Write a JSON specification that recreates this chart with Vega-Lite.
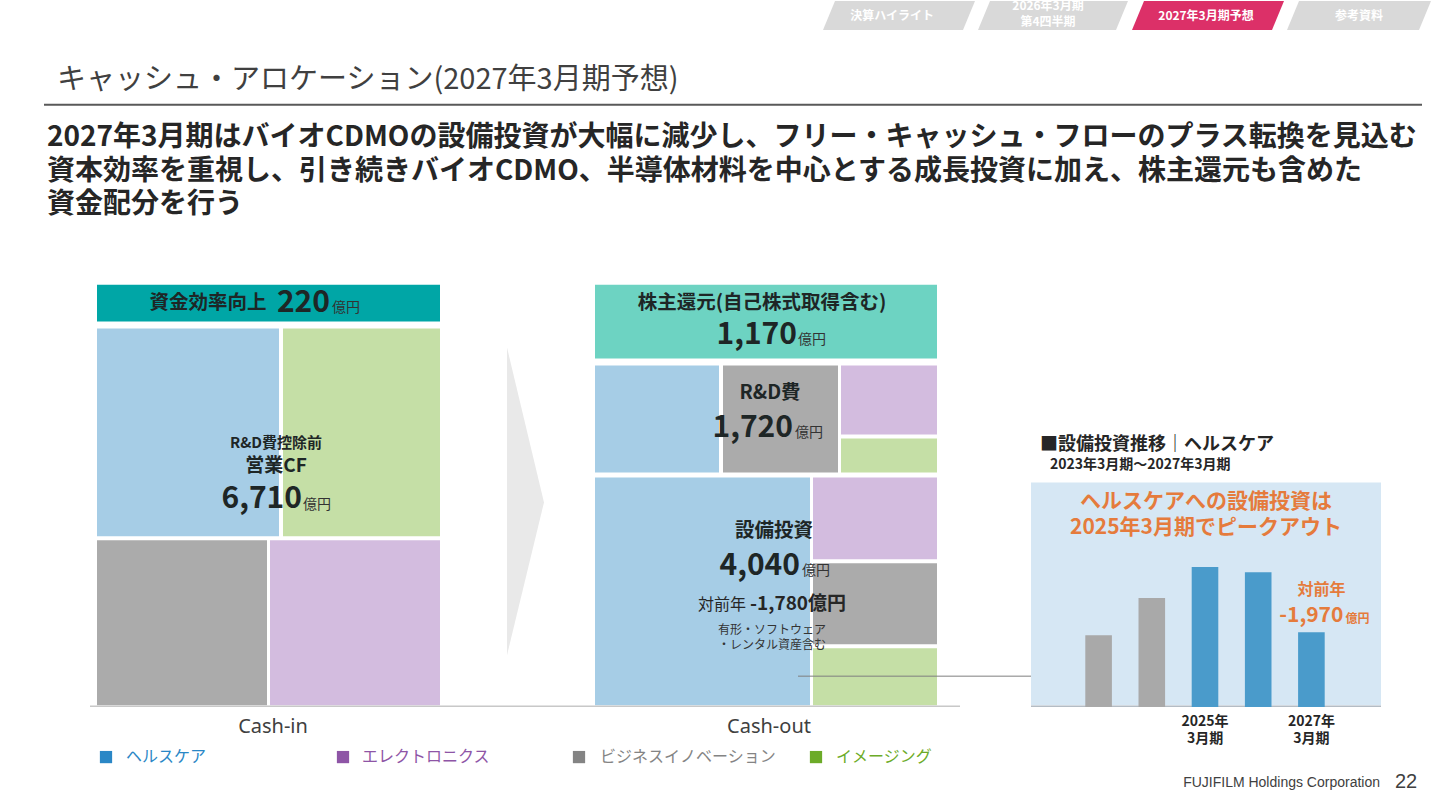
{
  "$schema": "https://vega.github.io/schema/vega-lite/v6.json",
  "width": 1440,
  "height": 810,
  "autosize": {"type": "fit", "contains": "padding"},
  "padding": 0,
  "background": "#ffffff",
  "config": {"view": {"stroke": null}, "font": "Noto Sans CJK JP"},
  "datasets": {
    "tabs": [
      {"tab": "決算ハイライト", "y": 0, "x": 835, "x2": 975},
      {"tab": "決算ハイライト", "y": 29, "x": 823, "x2": 963},
      {"tab": "2026年3月期 第4四半期", "y": 0, "x": 990, "x2": 1128},
      {"tab": "2026年3月期 第4四半期", "y": 29, "x": 978, "x2": 1116},
      {"tab": "2027年3月期予想", "y": 0, "x": 1144, "x2": 1284},
      {"tab": "2027年3月期予想", "y": 29, "x": 1132, "x2": 1272},
      {"tab": "参考資料", "y": 0, "x": 1299, "x2": 1431},
      {"tab": "参考資料", "y": 29, "x": 1287, "x2": 1419}
    ],
    "tiles": [
      {"blk": "Cash-in", "seg": "資金効率向上", "x": 97, "x2": 440, "y": 284, "y2": 321},
      {"blk": "Cash-in", "seg": "ヘルスケア", "x": 97, "x2": 279, "y": 328, "y2": 536},
      {"blk": "Cash-in", "seg": "イメージング", "x": 283, "x2": 440, "y": 328, "y2": 536},
      {"blk": "Cash-in", "seg": "ビジネスイノベーション", "x": 97, "x2": 267, "y": 540, "y2": 705},
      {"blk": "Cash-in", "seg": "エレクトロニクス", "x": 270, "x2": 440, "y": 540, "y2": 705},
      {"blk": "Cash-out", "seg": "株主還元", "x": 595, "x2": 937, "y": 284, "y2": 358},
      {"blk": "Cash-out", "seg": "ヘルスケア", "x": 595, "x2": 719, "y": 365, "y2": 472},
      {"blk": "Cash-out", "seg": "ビジネスイノベーション", "x": 723, "x2": 838, "y": 365, "y2": 472},
      {"blk": "Cash-out", "seg": "エレクトロニクス", "x": 841, "x2": 937, "y": 365, "y2": 434},
      {"blk": "Cash-out", "seg": "イメージング", "x": 841, "x2": 937, "y": 438, "y2": 472},
      {"blk": "Cash-out", "seg": "ヘルスケア", "x": 595, "x2": 810, "y": 477, "y2": 705},
      {"blk": "Cash-out", "seg": "エレクトロニクス", "x": 813, "x2": 937, "y": 477, "y2": 559},
      {"blk": "Cash-out", "seg": "ビジネスイノベーション", "x": 813, "x2": 937, "y": 563, "y2": 644},
      {"blk": "Cash-out", "seg": "イメージング", "x": 813, "x2": 937, "y": 648, "y2": 705}
    ],
    "legend": [
      {"seg": "ヘルスケア", "x": 106, "tx": 126, "y": 757},
      {"seg": "エレクトロニクス", "x": 343, "tx": 362, "y": 757},
      {"seg": "ビジネスイノベーション", "x": 579, "tx": 600, "y": 757},
      {"seg": "イメージング", "x": 816, "tx": 836, "y": 757}
    ],
    "capex": [
      {"fy": 2023, "capex": 2360, "label": ""},
      {"fy": 2024, "capex": 3580, "label": ""},
      {"fy": 2025, "capex": 4600, "label": "2025年\n3月期"},
      {"fy": 2026, "capex": 4430, "label": ""},
      {"fy": 2027, "capex": 2460, "label": "2027年\n3月期"}
    ]
  },
  "layer": [
    {
      "encoding": {
        "x": {"field": "x", "type": "quantitative", "scale": {"domain": [0, 1440], "nice": false, "zero": false}, "axis": null},
        "y": {"field": "y", "type": "quantitative", "scale": {"domain": [0, 810], "nice": false, "zero": false, "reverse": true}, "axis": null}
      },
      "layer": [
        {
          "data": {"name": "tabs"},
          "mark": {"type": "area", "orient": "horizontal"},
          "encoding": {
            "x2": {"field": "x2"},
            "detail": {"field": "tab"},
            "fill": {"condition": {"test": "datum.tab === '2027年3月期予想'", "value": "#dc3068"}, "value": "#d9d9d9"}
          }
        },
        {
          "data": {"values": [
            {"x": 892, "y": 15, "t": "決算ハイライト"},
            {"x": 1048, "y": 5, "t": "2026年3月期"},
            {"x": 1048, "y": 21, "t": "第4四半期"},
            {"x": 1206, "y": 15, "t": "2027年3月期予想"},
            {"x": 1359, "y": 15, "t": "参考資料"}
          ]},
          "mark": {"type": "text", "align": "center", "baseline": "middle", "fontSize": 12, "fontWeight": "bold", "color": "#ffffff"},
          "encoding": {"text": {"field": "t"}}
        },
        {
          "data": {"values": [{"x": 57, "y": 79, "t": "キャッシュ・アロケーション(2027年3月期予想)"}]},
          "mark": {"type": "text", "align": "left", "baseline": "middle", "fontSize": 29, "color": "#404040"},
          "encoding": {"text": {"field": "t"}}
        },
        {
          "data": {"values": [{"x": 44, "x2": 1422, "y": 104}]},
          "mark": {"type": "rule", "color": "#595959", "strokeWidth": 2},
          "encoding": {"x2": {"field": "x2"}}
        },
        {
          "data": {"values": [
            {"x": 47, "y": 137, "t": "2027年3月期はバイオCDMOの設備投資が大幅に減少し、フリー・キャッシュ・フローのプラス転換を見込む"},
            {"x": 47, "y": 171, "t": "資本効率を重視し、引き続きバイオCDMO、半導体材料を中心とする成長投資に加え、株主還元も含めた"},
            {"x": 47, "y": 204, "t": "資金配分を行う"}
          ]},
          "mark": {"type": "text", "align": "left", "baseline": "middle", "fontSize": 28, "fontWeight": "bold", "color": "#262626"},
          "encoding": {"text": {"field": "t"}}
        },
        {
          "data": {"values": [
            {"y": 347, "x": 507, "x2": 507},
            {"y": 502, "x": 507, "x2": 544},
            {"y": 655, "x": 507, "x2": 507}
          ]},
          "mark": {"type": "area", "orient": "horizontal", "color": "#e9e9e9"},
          "encoding": {"x2": {"field": "x2"}}
        },
        {
          "data": {"name": "tiles"},
          "mark": {"type": "rect"},
          "encoding": {
            "x2": {"field": "x2"},
            "y2": {"field": "y2"},
            "fill": {
              "field": "seg", "type": "nominal", "legend": null,
              "scale": {
                "domain": ["ヘルスケア", "エレクトロニクス", "ビジネスイノベーション", "イメージング", "資金効率向上", "株主還元"],
                "range": ["#a6cde6", "#d3bcdf", "#ababab", "#c5dfa6", "#00a6a6", "#6dd3c2"]
              }
            }
          }
        },
        {
          "data": {"values": [{"x": 90, "x2": 960, "y": 706}]},
          "mark": {"type": "rule", "color": "#c8c8c8", "strokeWidth": 1.5},
          "encoding": {"x2": {"field": "x2"}}
        },
        {
          "data": {"values": [{"x": 1031, "x2": 1381, "y": 482, "y2": 705}]},
          "mark": {"type": "rect", "color": "#d6e7f4"},
          "encoding": {"x2": {"field": "x2"}, "y2": {"field": "y2"}}
        },
        {
          "data": {"values": [{"x": 1031, "x2": 1381, "y": 706}]},
          "mark": {"type": "rule", "color": "#b4bcc4", "strokeWidth": 1.5},
          "encoding": {"x2": {"field": "x2"}}
        },
        {
          "data": {"values": [{"x": 798, "x2": 1031, "y": 676}]},
          "mark": {"type": "rule", "color": "#7f7f7f", "strokeWidth": 1},
          "encoding": {"x2": {"field": "x2"}}
        },
        {
          "data": {"values": [
            {"x": 208, "y": 302, "t": "資金効率向上"},
            {"x": 762, "y": 302, "t": "株主還元(自己株式取得含む)"},
            {"x": 770, "y": 392, "t": "R&D費"},
            {"x": 774, "y": 531, "t": "設備投資"}
          ]},
          "mark": {"type": "text", "align": "center", "baseline": "middle", "fontSize": 19.5, "fontWeight": "bold", "color": "#1e2626"},
          "encoding": {"text": {"field": "t"}}
        },
        {
          "data": {"values": [{"x": 276, "y": 443, "t": "R&D費控除前"}]},
          "mark": {"type": "text", "align": "center", "baseline": "middle", "fontSize": 15, "fontWeight": "bold", "color": "#1e2626"},
          "encoding": {"text": {"field": "t"}}
        },
        {
          "data": {"values": [{"x": 276, "y": 466, "t": "営業CF"}]},
          "mark": {"type": "text", "align": "center", "baseline": "middle", "fontSize": 19, "fontWeight": "bold", "color": "#1e2626"},
          "encoding": {"text": {"field": "t"}}
        },
        {
          "data": {"values": [
            {"x": 330, "y": 302, "t": "220"},
            {"x": 302, "y": 499, "t": "6,710"},
            {"x": 797, "y": 334, "t": "1,170"},
            {"x": 793, "y": 428, "t": "1,720"},
            {"x": 800, "y": 566, "t": "4,040"}
          ]},
          "mark": {"type": "text", "align": "right", "baseline": "middle", "fontSize": 30, "fontWeight": "bold", "color": "#1e2626"},
          "encoding": {"text": {"field": "t"}}
        },
        {
          "data": {"values": [
            {"x": 332, "y": 307, "t": "億円"},
            {"x": 303, "y": 505, "t": "億円"},
            {"x": 798, "y": 339, "t": "億円"},
            {"x": 795, "y": 433, "t": "億円"},
            {"x": 802, "y": 571, "t": "億円"}
          ]},
          "mark": {"type": "text", "align": "left", "baseline": "middle", "fontSize": 14, "color": "#333333"},
          "encoding": {"text": {"field": "t"}}
        },
        {
          "data": {"values": [{"x": 746, "y": 605, "t": "対前年"}]},
          "mark": {"type": "text", "align": "right", "baseline": "middle", "fontSize": 16, "color": "#262626"},
          "encoding": {"text": {"field": "t"}}
        },
        {
          "data": {"values": [{"x": 750, "y": 604, "t": "-1,780億円"}]},
          "mark": {"type": "text", "align": "left", "baseline": "middle", "fontSize": 19, "fontWeight": "bold", "color": "#262626"},
          "encoding": {"text": {"field": "t"}}
        },
        {
          "data": {"values": [
            {"x": 772, "y": 630, "t": "有形・ソフトウェア"},
            {"x": 772, "y": 645, "t": "・レンタル資産含む"}
          ]},
          "mark": {"type": "text", "align": "center", "baseline": "middle", "fontSize": 12, "color": "#333333"},
          "encoding": {"text": {"field": "t"}}
        },
        {
          "data": {"values": [
            {"x": 273, "y": 727, "t": "Cash-in"},
            {"x": 769, "y": 727, "t": "Cash-out"}
          ]},
          "mark": {"type": "text", "align": "center", "baseline": "middle", "fontSize": 20, "font": "Noto Sans", "color": "#404040"},
          "encoding": {"text": {"field": "t"}}
        },
        {
          "data": {"values": [{"x": 1040, "y": 445, "t": "■設備投資推移｜ヘルスケア"}]},
          "mark": {"type": "text", "align": "left", "baseline": "middle", "fontSize": 18, "fontWeight": "bold", "color": "#262626"},
          "encoding": {"text": {"field": "t"}}
        },
        {
          "data": {"values": [{"x": 1050, "y": 465, "t": "2023年3月期～2027年3月期"}]},
          "mark": {"type": "text", "align": "left", "baseline": "middle", "fontSize": 14, "fontWeight": "bold", "color": "#262626"},
          "encoding": {"text": {"field": "t"}}
        },
        {
          "data": {"values": [
            {"x": 1206, "y": 502, "t": "ヘルスケアへの設備投資は"},
            {"x": 1206, "y": 528, "t": "2025年3月期でピークアウト"}
          ]},
          "mark": {"type": "text", "align": "center", "baseline": "middle", "fontSize": 21, "fontWeight": "bold", "color": "#e57b3c"},
          "encoding": {"text": {"field": "t"}}
        },
        {
          "data": {"name": "legend"},
          "mark": {"type": "point", "shape": "square", "filled": true, "size": 150, "opacity": 1},
          "encoding": {
            "color": {
              "field": "seg", "type": "nominal", "legend": null,
              "scale": {
                "domain": ["ヘルスケア", "エレクトロニクス", "ビジネスイノベーション", "イメージング"],
                "range": ["#2a87c6", "#8e55a6", "#848484", "#6cab28"]
              }
            }
          }
        },
        {
          "data": {"name": "legend"},
          "mark": {"type": "text", "align": "left", "baseline": "middle", "fontSize": 16},
          "encoding": {
            "x": {"field": "tx", "type": "quantitative"},
            "text": {"field": "seg"},
            "color": {"field": "seg", "type": "nominal", "legend": null}
          }
        },
        {
          "data": {"values": [{"x": 1380, "y": 783, "t": "FUJIFILM Holdings Corporation"}]},
          "mark": {"type": "text", "align": "right", "baseline": "middle", "fontSize": 14, "font": "Liberation Sans", "color": "#404040"},
          "encoding": {"text": {"field": "t"}}
        },
        {
          "data": {"values": [{"x": 1406, "y": 782, "t": "22"}]},
          "mark": {"type": "text", "align": "center", "baseline": "middle", "fontSize": 20, "font": "Liberation Sans", "color": "#404040"},
          "encoding": {"text": {"field": "t"}}
        }
      ]
    },
    {
      "data": {"name": "capex"},
      "encoding": {
        "x": {"field": "fy", "type": "ordinal", "scale": {"range": [1072, 1338], "paddingInner": 0.5, "paddingOuter": 0.25}, "axis": null},
        "y": {"field": "capex", "type": "quantitative", "scale": {"domain": [0, 4600], "range": [706, 566], "nice": false, "zero": true}, "axis": null}
      },
      "layer": [
        {
          "mark": {"type": "bar"},
          "encoding": {
            "color": {"condition": {"test": "datum.fy >= 2025", "value": "#4a9bcb"}, "value": "#a9a9a9"}
          }
        },
        {
          "transform": [{"filter": "datum.label != ''"}],
          "mark": {"type": "text", "lineBreak": "\n", "lineHeight": 17, "align": "center", "baseline": "top", "dy": 8, "fontSize": 14, "fontWeight": "bold", "color": "#262626"},
          "encoding": {"y": {"datum": 0, "type": "quantitative"}, "text": {"field": "label"}}
        },
        {
          "transform": [{"filter": "datum.fy === 2027"}],
          "mark": {"type": "text", "align": "center", "baseline": "middle", "dx": 10, "dy": -42, "fontSize": 16, "fontWeight": "bold", "color": "#e57b3c"},
          "encoding": {"text": {"value": "対前年"}}
        },
        {
          "transform": [{"filter": "datum.fy === 2027"}],
          "mark": {"type": "text", "align": "right", "baseline": "middle", "dx": 32, "dy": -16, "fontSize": 21, "fontWeight": "bold", "color": "#e57b3c"},
          "encoding": {"text": {"value": "-1,970"}}
        },
        {
          "transform": [{"filter": "datum.fy === 2027"}],
          "mark": {"type": "text", "align": "left", "baseline": "middle", "dx": 34, "dy": -13, "fontSize": 12, "fontWeight": "bold", "color": "#e57b3c"},
          "encoding": {"text": {"value": "億円"}}
        }
      ]
    }
  ],
  "resolve": {"scale": {"x": "independent", "y": "independent"}}
}
